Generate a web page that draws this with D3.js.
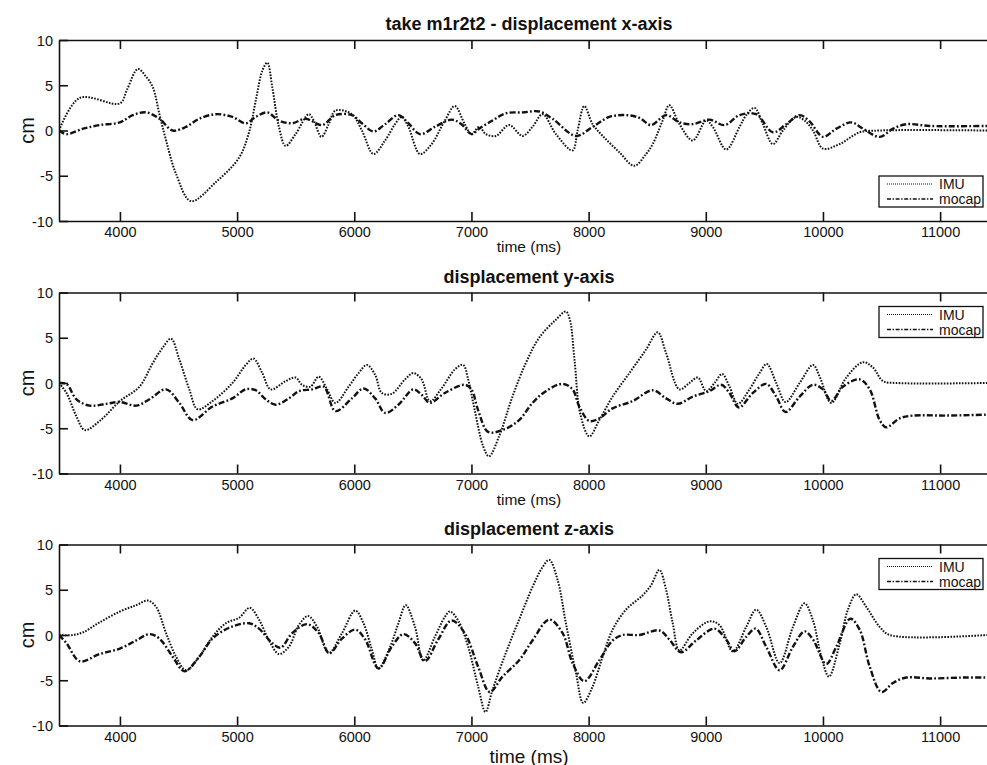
<!DOCTYPE html>
<html>
<head>
<meta charset="utf-8">
<script src="https://cdn.jsdelivr.net/npm/d3@7"></script>
<style>
  html, body { margin: 0; padding: 0; background: #fff; }
  svg { display: block; font-family: "Liberation Sans", Arial, Helvetica, sans-serif; }
</style>
</head>
<body>
<svg id="chart" width="987" height="765"></svg>
<script>
// Time window (ms) and displacement range (cm)
const timeDomain = [3480, 11400];
const cmDomain = [-10, 10];
const timeTicks = [4000, 5000, 6000, 7000, 8000, 9000, 10000, 11000];
const cmTicks = [-10, -5, 0, 5, 10];
const seriesNames = ["IMU", "mocap"];
const panelTitles = ["take m1r2t2 - displacement x-axis", "displacement y-axis", "displacement z-axis"];

// [time ms, displacement cm]
const imuX = [[3480,0],[3657,3.6],[4000,3.0],[4060,4.5],[4153,6.8],[4220,6.0],[4280,4.8],[4337,1.8],[4394,-1.1],[4479,-4.8],[4606,-7.8],[4819,-5.7],[5017,-3.0],[5102,-0.2],[5159,3.3],[5215,6.6],[5258,7.5],[5300,4.8],[5357,0.4],[5414,-1.7],[5499,-0.4],[5612,1.8],[5654,1.1],[5720,-0.7],[5782,0.7],[5839,2.2],[5980,1.8],[6065,0],[6164,-2.6],[6263,-1.1],[6348,0.7],[6405,1.5],[6462,0.4],[6561,-2.6],[6660,-1.5],[6773,1.1],[6858,2.7],[6943,0.7],[7000,-0.4],[7066,0.4],[7123,-0.4],[7208,-0.6],[7322,0.6],[7436,-0.6],[7521,0.4],[7607,1.8],[7721,-0.4],[7863,-2.2],[7906,0],[7963,2.7],[8034,0.7],[8120,-0.6],[8262,-2.4],[8390,-3.9],[8490,-2.6],[8547,-1.5],[8632,1.1],[8689,2.8],[8775,0.7],[8889,-1.1],[9003,1.1],[9060,0.4],[9174,-2.1],[9288,0.4],[9345,1.7],[9416,2.5],[9487,0.7],[9573,-1.5],[9658,0],[9772,1.5],[9843,1.1],[9915,0],[10000,-2.0],[10142,-1.5],[10313,-0.2],[10484,0],[11400,0]];
const mocapX = [[3480,0],[3544,-0.4],[3686,0.2],[3827,0.6],[4000,0.9],[4110,1.7],[4224,2.0],[4337,1.3],[4450,0],[4564,0.4],[4677,1.3],[4819,1.8],[4960,1.5],[5074,0.8],[5159,1.5],[5258,2.0],[5357,1.1],[5470,0.8],[5584,1.3],[5725,0.6],[5839,1.7],[5980,1.7],[6065,0.8],[6164,-0.1],[6263,0.7],[6377,1.7],[6462,0.8],[6561,-0.4],[6688,0.4],[6830,1.2],[6915,0.7],[7000,-0.4],[7066,0.2],[7179,1.1],[7293,1.9],[7436,2.0],[7578,2.1],[7692,1.3],[7892,-0.6],[8034,0.4],[8177,1.5],[8319,1.7],[8433,1.4],[8533,0.6],[8661,1.7],[8775,0.9],[8889,0.7],[9031,1.2],[9160,0.6],[9288,1.7],[9430,1.8],[9573,-0.2],[9687,0.7],[9801,1.7],[9886,1.0],[10000,-0.7],[10114,0.2],[10242,0.9],[10342,0.2],[10484,-0.7],[10598,0.2],[10712,0.7],[10912,0.5],[11400,0.5]];

const imuY = [[3480,0],[3544,-1.1],[3629,-3.7],[3700,-5.2],[3827,-4.2],[4000,-2.0],[4167,-0.4],[4280,2.2],[4365,3.9],[4436,4.9],[4507,2.6],[4592,-0.7],[4663,-2.9],[4790,-2.0],[4960,0],[5074,2.0],[5139,2.7],[5215,1.1],[5286,-0.7],[5414,0.2],[5499,0.6],[5555,-0.2],[5626,-0.4],[5697,0.7],[5768,-0.7],[5839,-2.2],[5952,-0.4],[6037,1.1],[6108,2.0],[6178,0.9],[6235,-1.1],[6320,-1.2],[6433,0.4],[6504,1.1],[6575,0.4],[6646,-2.0],[6745,-0.6],[6858,1.5],[6929,2.0],[6972,0.4],[7028,-3.0],[7100,-7.0],[7150,-8.1],[7236,-5.9],[7350,-1.5],[7464,2.2],[7578,5.0],[7721,7.0],[7806,7.9],[7840,7.0],[7880,2.5],[7930,-3.5],[8006,-5.9],[8091,-4.1],[8205,-1.5],[8348,1.1],[8490,3.7],[8590,5.6],[8661,3.3],[8775,-0.7],[8860,0],[8932,0.6],[9003,-0.9],[9074,0],[9140,1.0],[9202,-0.4],[9274,-2.3],[9373,-0.7],[9459,1.1],[9521,2.1],[9601,0],[9681,-2.1],[9801,0],[9915,2.0],[9972,0.7],[10071,-2.2],[10199,0.6],[10342,2.3],[10427,1.7],[10513,0.2],[10627,0],[11400,0]];
const mocapY = [[3480,0],[3544,-0.1],[3629,-1.8],[3742,-2.5],[3884,-2.3],[4000,-2.1],[4139,-2.5],[4252,-1.8],[4394,-0.7],[4507,-2.2],[4620,-4.1],[4790,-2.6],[4960,-1.7],[5074,-0.7],[5159,-0.8],[5243,-1.8],[5329,-2.4],[5442,-1.7],[5527,-0.9],[5640,-0.7],[5739,-0.4],[5839,-3.1],[5980,-1.7],[6079,-0.6],[6178,-1.7],[6263,-3.3],[6377,-2.4],[6504,-0.7],[6575,-1.3],[6646,-2.2],[6773,-1.1],[6943,-0.2],[7000,-0.7],[7057,-3.0],[7142,-5.4],[7265,-5.2],[7407,-4.1],[7521,-2.2],[7635,-0.9],[7778,-0.1],[7863,-0.7],[7920,-2.6],[8006,-4.2],[8091,-3.9],[8205,-2.8],[8376,-2.0],[8547,-0.8],[8661,-1.7],[8761,-2.3],[8889,-1.5],[9031,-0.9],[9131,-0.2],[9202,-1.1],[9282,-2.7],[9402,-1.1],[9516,-0.1],[9601,-1.5],[9681,-3.2],[9801,-1.5],[9915,-0.2],[10000,-0.7],[10071,-2.0],[10171,-0.4],[10313,0.4],[10399,-0.7],[10484,-4.1],[10541,-4.9],[10655,-3.9],[10769,-3.6],[11054,-3.6],[11400,-3.5]];

const imuZ = [[3480,0],[3600,0],[3686,0.3],[3827,1.4],[4000,2.6],[4139,3.3],[4238,3.8],[4309,3.1],[4394,0.2],[4479,-2.4],[4564,-3.9],[4677,-2.4],[4790,-0.2],[4904,1.3],[5017,1.9],[5108,3.0],[5187,1.7],[5272,-0.6],[5357,-2.1],[5442,-1.3],[5527,1.1],[5606,2.1],[5683,0.9],[5782,-2.0],[5895,0.2],[6008,2.7],[6079,1.3],[6150,-1.6],[6207,-3.7],[6306,-1.3],[6377,1.3],[6439,3.3],[6518,0.9],[6589,-2.8],[6688,-0.2],[6773,2.0],[6816,2.6],[6887,1.6],[6972,-1.3],[7057,-5.7],[7120,-8.5],[7179,-6.1],[7293,-2.0],[7407,1.7],[7521,5.3],[7607,7.5],[7664,8.3],[7735,6.1],[7806,1.3],[7892,-4.2],[7954,-7.5],[8034,-5.7],[8120,-2.4],[8205,0.6],[8319,2.8],[8462,4.4],[8533,5.5],[8604,7.2],[8661,5.0],[8718,1.3],[8775,-1.7],[8889,0.2],[9031,1.5],[9117,1.1],[9231,-1.8],[9345,0.9],[9430,2.8],[9516,0.9],[9630,-3.1],[9744,0.9],[9843,3.5],[9915,1.6],[9986,-2.4],[10051,-4.6],[10142,-1.0],[10213,2.8],[10284,4.5],[10370,3.1],[10484,0.9],[10570,0],[11400,0]];
const mocapZ = [[3480,0],[3544,-0.9],[3657,-2.9],[3827,-2.1],[4000,-1.5],[4139,-0.6],[4252,0.1],[4337,-0.4],[4450,-2.4],[4550,-4.0],[4677,-2.4],[4790,-0.4],[4932,0.8],[5102,1.3],[5187,0.7],[5300,-0.9],[5371,-1.4],[5470,0.2],[5598,1.2],[5697,0.2],[5787,-2.0],[5895,-0.4],[6008,0.6],[6093,-0.5],[6207,-3.7],[6320,-1.3],[6419,0.1],[6518,-0.9],[6603,-2.9],[6716,-0.5],[6830,1.6],[6943,0.2],[7057,-3.5],[7156,-6.3],[7265,-4.6],[7407,-2.8],[7521,-0.6],[7664,1.7],[7778,0.2],[7863,-3.1],[7963,-5.1],[8091,-2.8],[8205,-0.6],[8291,0],[8433,0],[8604,0.5],[8689,-0.5],[8789,-1.9],[8917,-0.6],[9074,0.7],[9174,-0.5],[9245,-1.8],[9345,-0.2],[9425,0.7],[9516,-1.3],[9630,-3.9],[9744,-1.3],[9843,0.4],[9915,-0.5],[10028,-3.2],[10114,-1.3],[10233,1.8],[10313,0.6],[10399,-3.5],[10499,-6.3],[10598,-5.3],[10712,-4.7],[10912,-4.8],[11197,-4.7],[11400,-4.7]];

const panels = [
  { title: panelTitles[0], imu: imuX, mocap: mocapX, top: 40, legendTop: false, xLabelSize: 15.5 },
  { title: panelTitles[1], imu: imuY, mocap: mocapY, top: 292.5, legendTop: true, xLabelSize: 15.5 },
  { title: panelTitles[2], imu: imuZ, mocap: mocapZ, top: 544.5, legendTop: true, xLabelSize: 19 }
];

const plotLeft = 59, plotRight = 987, plotH = 181, titleCenter = 529;
const styles = {
  IMU:   { dash: "1.6,1.4", width: 2.0, legendDash: "1,1", legendWidth: 1.1 },
  mocap: { dash: "6,2.2,1.8,2.2", width: 2.4, legendDash: "4,1.6,1.4,1.6", legendWidth: 1.3 }
};
// plain ASCII hyphen for negative tick labels
const plainNum = d => String(d);

const svg = d3.select("#chart");
const x = d3.scaleLinear().domain(timeDomain).range([plotLeft, plotRight]);

panels.forEach((p, i) => {
  const y = d3.scaleLinear().domain(cmDomain).range([p.top + plotH, p.top]);
  const g = svg.append("g");

  const clipId = "clip" + i;
  svg.append("clipPath").attr("id", clipId)
    .append("rect").attr("x", plotLeft).attr("y", p.top).attr("width", plotRight - plotLeft).attr("height", plotH);

  const line = d3.line().x(d => x(d[0])).y(d => y(d[1])).curve(d3.curveCatmullRom.alpha(0.5));

  const lines = g.append("g").attr("clip-path", `url(#${clipId})`);
  [["IMU", p.imu], ["mocap", p.mocap]].forEach(([name, data]) => {
    lines.append("path").datum(data)
      .attr("d", line)
      .attr("fill", "none")
      .attr("stroke", "#111")
      .attr("stroke-width", styles[name].width)
      .attr("stroke-dasharray", styles[name].dash);
  });

  // bottom axis (labels), ticks point inward
  const bottom = g.append("g").attr("transform", `translate(0,${p.top + plotH})`)
    .call(d3.axisBottom(x).tickValues(timeTicks).tickSizeInner(-9).tickSizeOuter(0).tickPadding(6).tickFormat(plainNum));
  // top axis, no labels
  const top = g.append("g").attr("transform", `translate(0,${p.top})`)
    .call(d3.axisTop(x).tickValues(timeTicks).tickSizeInner(-9).tickSizeOuter(0).tickFormat(""));
  // left axis
  const left = g.append("g").attr("transform", `translate(${plotLeft},0)`)
    .call(d3.axisLeft(y).tickValues(cmTicks).tickSizeInner(-9).tickSizeOuter(0).tickPadding(6).tickFormat(plainNum));

  [bottom, top, left].forEach(a => {
    a.select(".domain").attr("stroke", "#111").attr("stroke-width", 1.6);
    a.selectAll(".tick line").attr("stroke", "#111").attr("stroke-width", 1.6);
    a.selectAll(".tick text").attr("fill", "#111").style("font-size", "14.5px")
      .style("font-family", "'Liberation Sans', Arial, sans-serif");
  });
  bottom.selectAll(".tick text").attr("dy", "0.71em");
  left.selectAll(".tick text").attr("dy", "0.36em");

  // title
  g.append("text").attr("x", titleCenter).attr("y", p.top - 10)
    .attr("text-anchor", "middle").style("font-size", "18px").style("font-weight", "bold")
    .attr("fill", "#111").text(p.title);

  // x label
  g.append("text").attr("x", titleCenter).attr("y", p.top + plotH + (i === 2 ? 37 : 31))
    .attr("text-anchor", "middle").style("font-size", p.xLabelSize + "px")
    .attr("fill", "#111").text("time (ms)");

  // y label
  g.append("text")
    .attr("transform", `translate(34,${p.top + plotH / 2}) rotate(-90)`)
    .attr("text-anchor", "middle").style("font-size", "20px")
    .attr("fill", "#111").text("cm");

  // legend
  const lw = 104, lh = 31;
  const lx = 879;
  const ly = p.legendTop ? p.top + 14 : p.top + plotH - 14 - lh;
  const lg = g.append("g").attr("transform", `translate(${lx},${ly})`);
  lg.append("rect").attr("width", lw).attr("height", lh)
    .attr("fill", "#fff").attr("stroke", "#111").attr("stroke-width", 1.3);
  seriesNames.forEach((name, k) => {
    const cy = 8 + k * 15;
    lg.append("line").attr("x1", 8).attr("x2", 54).attr("y1", cy).attr("y2", cy)
      .attr("stroke", "#111").attr("stroke-width", styles[name].legendWidth)
      .attr("stroke-dasharray", styles[name].legendDash);
    lg.append("text").attr("x", 60).attr("y", cy).attr("dy", "0.36em")
      .style("font-size", "14px").attr("fill", "#111").text(name);
  });
});
</script>
</body>
</html>
